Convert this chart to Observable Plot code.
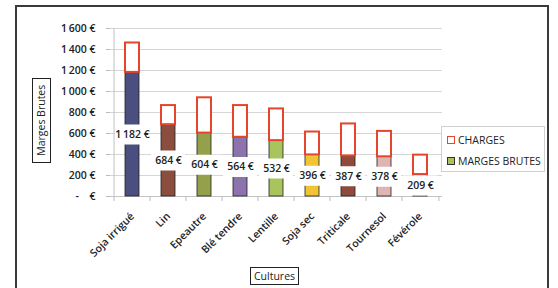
<!DOCTYPE html>
<html>
<head>
<meta charset="utf-8">
<script src="https://cdn.jsdelivr.net/npm/d3@7"></script>
<script src="https://cdn.jsdelivr.net/npm/@observablehq/plot@0.6"></script>
<style>
  html, body { margin: 0; padding: 0; background: #fff; }
  #wrap { position: relative; width: 558px; height: 288px; overflow: hidden; font-family: "Open Sans", sans-serif; color: #222; }
  #frame { position: absolute; left: 15px; top: 5px; width: 534px; height: 300px; border: 2px solid #3a3a3a; box-sizing: border-box; }
  .boxed { position: absolute; border: 1px solid #222; background: #fff; font-size: 10.5px; line-height: 1; display: flex; align-items: center; justify-content: center; box-sizing: border-box; white-space: nowrap; }
  #ytitle { left: 32px; top: 78px; width: 19px; height: 85px; }
  #ytitle span { transform: rotate(-90deg); display: inline-block; }
  #xtitle { left: 250px; top: 267px; width: 49px; height: 18px; }
  #legend { position: absolute; left: 441px; top: 126px; width: 104px; height: 46px; border: 1px solid #d0d0d0; background: #fff; box-sizing: border-box; font-size: 10.5px; }
  .item { position: absolute; left: 5px; display: flex; align-items: center; white-space: nowrap; }
  .sw { width: 6px; height: 6px; margin-right: 3px; box-sizing: content-box; }
  svg { position: absolute; left: 0; top: 0; }
  svg text { font-weight: 600; }
</style>
</head>
<body>
<div id="wrap">
  <div id="frame"></div>
  <div id="chart"></div>
  <div id="ytitle" class="boxed"><span>Marges Brutes</span></div>
  <div id="xtitle" class="boxed">Cultures</div>
  <div id="legend">
    <div class="item" style="top:6px"><div class="sw" style="border:1.5px solid #e5452c;background:#fff"></div>CHARGES</div>
    <div class="item" style="top:27px"><div class="sw" style="border:1px solid #333;background:#a9c45c"></div>MARGES BRUTES</div>
  </div>
</div>
<script>
const cultures = ["Soja irrigué", "Lin", "Epeautre", "Blé tendre", "Lentille", "Soja sec", "Triticale", "Tournesol", "Févérole"];
const marges = [1182, 684, 604, 564, 532, 396, 387, 378, 209];
const charges = [280, 182, 336, 302, 302, 218, 304, 242, 185];
const yTicks = [0, 200, 400, 600, 800, 1000, 1200, 1400, 1600];
const couleurs = ["#4a4f7f", "#8b4d3e", "#95a14a", "#8d73ad", "#a9c45c", "#f0c432", "#8e4a3c", "#dfb5b3", "#a9cfe6"];

const data = cultures.map((c, i) => ({culture: c, marge: marges[i], charge: charges[i]}));

const W = 558, H = 288, ML = 110, MR = 116, MT = 28, MB = 92;
const step = (W - ML - MR) / cultures.length;

const euro = d => d3.format(",")(d).replace(/,/g, "\u2009") + " €";
const yFmt = d => d === 0 ? "-\u2002\u2002€" : euro(d);

const chart = Plot.plot({
  width: W, height: H,
  marginLeft: ML, marginRight: MR, marginTop: MT, marginBottom: MB,
  style: {fontFamily: "Open Sans, sans-serif", fontSize: "10px", color: "#222", background: "transparent"},
  x: {domain: cultures, paddingInner: 0.6, paddingOuter: 0.3, axis: null},
  y: {domain: [0, 1600], axis: null},
  color: {domain: cultures, range: couleurs},
  marks: [
    Plot.gridY(yTicks, {stroke: "#d6d6d6", strokeOpacity: 1}),
    Plot.ruleX([cultures[0]], {dx: -step / 2, y1: 0, y2: 1600, stroke: "#c4c4c4"}),
    Plot.ruleY([0], {stroke: "#c4c4c4"}),
    Plot.barY(data, {x: "culture", y1: 0, y2: "marge", fill: "culture", stroke: "#222", strokeWidth: 0.8}),
    Plot.barY(data, {x: "culture", y1: "marge", y2: d => d.marge + d.charge, fill: "white", stroke: "#e5452c", strokeWidth: 2}),
    Plot.tickY(data, {x: "culture", y: d => d.marge / 2, stroke: "white", strokeWidth: 20, strokeLinecap: "square"}),
    Plot.text(data, {x: "culture", y: d => d.marge / 2, text: d => euro(d.marge), fill: "#222", fontSize: 10.5}),
    Plot.axisY(yTicks, {tickSize: 4, tickPadding: 11, tickFormat: yFmt, stroke: "#bbb", fill: "#222", fontSize: 10.5, label: null}),
    Plot.axisX(cultures, {tickSize: 5, tickFormat: () => "", dx: -step / 2, stroke: "#bbb", label: null}),
    Plot.axisX([cultures[cultures.length - 1]], {tickSize: 5, tickFormat: () => "", dx: step / 2, stroke: "#bbb", label: null}),
    Plot.axisX(cultures, {tickSize: 0, tickPadding: 18, tickRotate: -45, fill: "#222", fontSize: 10.5, label: null})
  ]
});
document.getElementById("chart").appendChild(chart);
</script>
</body>
</html>
